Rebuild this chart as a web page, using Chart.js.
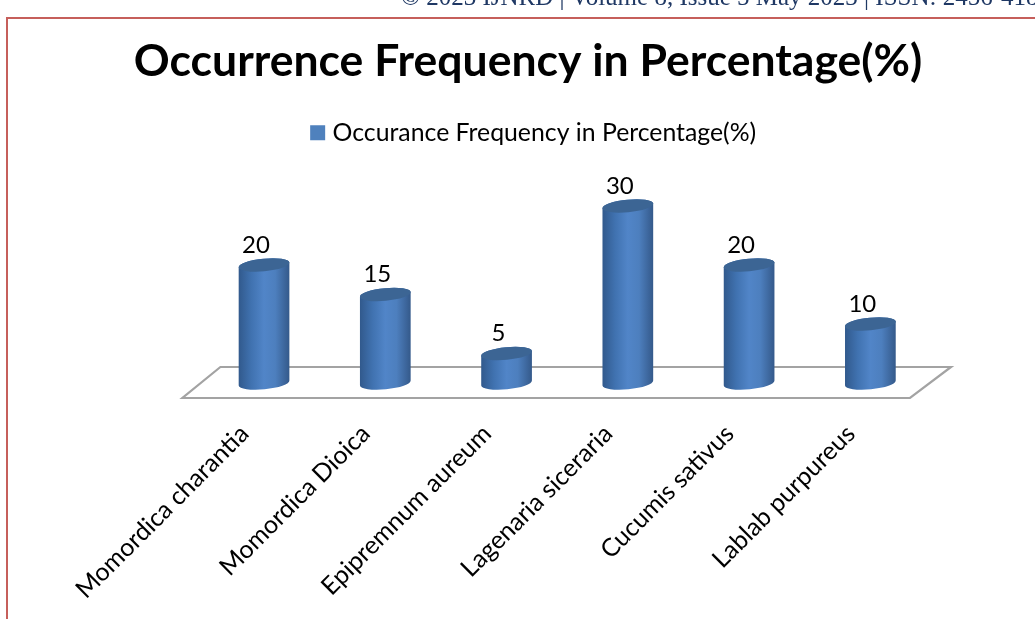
<!DOCTYPE html>
<html>
<head>
<meta charset="utf-8">
<title>Occurrence Frequency in Percentage(%)</title>
<script src="https://cdn.jsdelivr.net/npm/chart.js@4"></script>
<style>
  html, body { margin: 0; padding: 0; background: #fff; overflow: hidden; }
  #wrap { position: absolute; left: 0; top: 0; width: 1035px; height: 619px; }
</style>
</head>
<body>
<div id="wrap"><canvas id="chart" width="1035" height="619"></canvas></div>
<script>
const categories = ["Momordica charantia", "Momordica Dioica", "Epipremnum aureum", "Lagenaria siceraria", "Cucumis sativus", "Lablab purpureus"];
const frequency = [20, 15, 5, 30, 20, 10];
const chartTitle = "Occurrence Frequency in Percentage(%)";
const seriesName = "Occurance Frequency in Percentage(%)";
const pageHeader = "© 2023 IJNRD | Volume 8, Issue 5 May 2023 | ISSN: 2456-4184";

const FONT = "Lato, Carlito, 'Open Sans', sans-serif";
const TILT = -5.5 * Math.PI / 180;

// Page furniture behind the chart: running header and the red frame.
const pageFrame = {
  id: "pageFrame",
  beforeDraw(chart) {
    const c = chart.ctx;
    c.save();
    c.fillStyle = "#1f3864";
    c.font = "25px 'Liberation Serif', serif";
    c.textAlign = "left";
    c.textBaseline = "alphabetic";
    c.fillText(pageHeader, 401, 5);
    c.strokeStyle = "#c65f5b";
    c.lineWidth = 2;
    c.beginPath();
    c.moveTo(7, 619);
    c.lineTo(7, 18);
    c.lineTo(1035, 18);
    c.stroke();
    c.restore();
  }
};

// Perspective floor under the columns, anchored to the category scale and the zero line.
const floorPlate = {
  id: "floorPlate",
  beforeDatasetsDraw(chart) {
    const c = chart.ctx, a = chart.chartArea, y0 = chart.scales.y.getPixelForValue(0);
    c.save();
    c.strokeStyle = "#a3a3a3";
    c.lineWidth = 2.2;
    c.beginPath();
    c.moveTo(a.left - 21, y0 + 15);
    c.lineTo(a.right - 21, y0 + 15);
    c.lineTo(a.right + 20, y0 - 16);
    c.lineTo(a.left + 17, y0 - 16);
    c.closePath();
    c.stroke();
    c.restore();
  }
};

// Paints each bar element as a shaded cylinder in place of the flat rectangle.
const cylinders = {
  id: "cylinders",
  beforeDatasetDraw(chart, args) {
    const c = chart.ctx;
    const y0 = chart.scales.y.getPixelForValue(0);
    args.meta.data.forEach((bar) => {
      const rx = bar.width / 2, ry = 6.3, x = bar.x, top = bar.y;
      const g = c.createLinearGradient(x - rx, 0, x + rx, 0);
      g.addColorStop(0, "#31598c");
      g.addColorStop(0.25, "#4072b0");
      g.addColorStop(0.5, "#5185c8");
      g.addColorStop(0.72, "#4d7fbe");
      g.addColorStop(1, "#34598a");
      c.save();
      c.fillStyle = g;
      c.beginPath();
      c.ellipse(x, y0, rx, ry, TILT, Math.PI, 0, true);
      c.ellipse(x, top, rx, ry, TILT, 0, Math.PI, true);
      c.closePath();
      c.fill();
      c.fillStyle = "#3c6594";
      c.beginPath();
      c.ellipse(x, top, rx, ry, TILT, 0, Math.PI * 2);
      c.fill();
      c.restore();
    });
    return false;
  },
  afterDatasetsDraw(chart) {
    const c = chart.ctx;
    const meta = chart.getDatasetMeta(0);
    c.save();
    c.fillStyle = "#000";
    c.font = "24px " + FONT;
    c.textAlign = "center";
    c.textBaseline = "middle";
    meta.data.forEach((bar, i) => {
      c.fillText(String(frequency[i]), bar.x - 8, bar.y - 20);
    });
    c.restore();
  }
};

new Chart(document.getElementById("chart"), {
  type: "bar",
  data: {
    labels: categories,
    datasets: [{
      label: seriesName,
      data: frequency,
      backgroundColor: "#4f81bd",
      borderWidth: 0,
      categoryPercentage: 1,
      barPercentage: 0.42
    }]
  },
  plugins: [pageFrame, floorPlate, cylinders, {
    id: "titleNudge",
    afterLayout(chart) {
      chart.titleBlock.left -= 7.7;
      chart.titleBlock.right -= 7.7;
    }
  }],
  options: {
    responsive: false,
    animation: false,
    layout: { padding: { left: 140.4, right: 104, top: 0, bottom: 0 } },
    plugins: {
      tooltip: { enabled: false },
      title: {
        display: true,
        text: chartTitle,
        color: "#000",
        font: { family: FONT, size: 44.5, weight: "bold" },
        padding: { top: 34.8, bottom: 22.2 }
      },
      legend: {
        display: true,
        position: "top",
        onClick: null,
        labels: {
          color: "#000",
          font: { family: FONT, size: 24.8 },
          usePointStyle: true,
          pointStyle: "rect",
          boxWidth: 5,
          boxHeight: 15,
          padding: 10
        }
      }
    },
    scales: {
      x: {
        grid: { display: false },
        border: { display: false },
        afterFit(scale) { scale.height = 236; },
        ticks: {
          color: "#000",
          font: { family: FONT, size: 25 },
          maxRotation: 45,
          minRotation: 45,
          autoSkip: false,
          labelOffset: -19.5,
          padding: 28
        }
      },
      y: {
        min: 0,
        max: 38.6,
        grid: { display: false },
        border: { display: false },
        ticks: { display: false },
        afterFit(scale) { scale.width = 63; }
      }
    }
  }
});
</script>
</body>
</html>
